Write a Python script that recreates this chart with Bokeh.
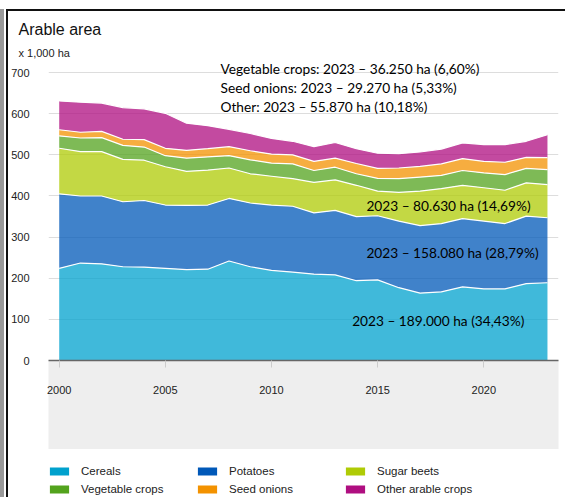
from bokeh.plotting import figure
from bokeh.layouts import column
from bokeh.models import (Range1d, FixedTicker, Legend, LegendItem, Title, Label,
                          ColumnDataSource)
from bokeh.embed import file_html
from bokeh.resources import INLINE

# ---------------- data (x 1,000 ha) ----------------
years = list(range(2000, 2024))
cereals = [224, 237, 235, 228, 227, 224, 221, 222, 242, 228, 219, 215,
           210, 208, 194, 196, 177, 164, 167, 179, 174, 174, 187, 189.0]
potatoes = [181, 163, 165, 158, 162, 154, 156, 156, 152, 155, 159, 160,
            149, 157, 156, 156, 162, 164, 166, 166, 165, 159, 164, 158.08]
sugar_beets = [111, 108, 108, 103, 98, 93, 83, 85, 74, 71, 70, 67,
               74, 74, 76, 60, 70, 84, 85, 81, 81, 81, 81, 80.63]
vegetable_crops = [30, 33, 34, 34, 32, 27, 32, 32, 30, 34, 32, 36,
                   29, 31, 28, 31, 33, 34, 32, 36, 36, 38, 35, 36.25]
seed_onions = [15, 14, 15, 15, 18, 18, 19, 20, 22, 22, 22, 22,
               22, 22, 25, 24, 26, 26, 28, 29, 28, 30, 27, 29.27]
other_crops = [70, 73, 69, 77, 75, 85, 66, 56, 42, 42, 38, 33,
               36, 38, 36, 37, 35, 35, 36, 38, 41, 43, 39, 55.87]

series_keys = ["cereals", "potatoes", "sugar_beets", "vegetable_crops",
               "seed_onions", "other_crops"]
series_names = ["Cereals", "Potatoes", "Sugar beets", "Vegetable crops",
                "Seed onions", "Other arable crops"]
colors = ["#00a1cd", "#0058b8", "#afcb05", "#53a31d", "#f39200", "#af0e80"]

x_ticks = [2000, 2005, 2010, 2015, 2020]
y_ticks = [0, 100, 200, 300, 400, 500, 600, 700]

note_texts = ["Vegetable crops: 2023 \u2013 36.250 ha (6,60%)",
              "Seed onions: 2023 \u2013 29.270 ha (5,33%)",
              "Other: 2023 \u2013 55.870 ha (10,18%)",
              "2023 \u2013 80.630 ha (14,69%)",
              "2023 \u2013 158.080 ha (28,79%)",
              "2023 \u2013 189.000 ha (34,43%)"]
note_x = [2007.6, 2007.6, 2007.6, 2014.47, 2014.47, 2013.8]
note_y = [710, 664, 618, 378, 262, 97]

# ---------------- main figure ----------------
source = ColumnDataSource(dict(year=years, cereals=cereals, potatoes=potatoes,
                               sugar_beets=sugar_beets,
                               vegetable_crops=vegetable_crops,
                               seed_onions=seed_onions, other_crops=other_crops))

p = figure(width=557, height=438,
           x_range=Range1d(1999.496, 2023.52), y_range=Range1d(0, 727),
           output_backend="svg", toolbar_location=None,
           min_border_left=40, min_border_right=7, min_border_top=50,
           min_border_bottom=88)
p.outline_line_color = None
p.background_fill_color = "white"
p.border_fill_color = "white"

p.varea_stack(series_keys, x="year", source=source, color=colors, fill_alpha=0.75)
p.vline_stack(series_keys, x="year", source=source, color="white", line_width=1.2)

xa = p.xaxis[0]
xa.ticker = FixedTicker(ticks=x_ticks)
xa.axis_line_color = "#666666"
xa.axis_line_width = 1.5
xa.major_tick_in = 0
xa.major_tick_out = 7
xa.major_tick_line_color = "#cccccc"
xa.minor_tick_line_color = None
xa.major_label_text_font = "Liberation Sans"
xa.major_label_text_font_size = "11px"
xa.major_label_text_color = "#222222"
xa.major_label_standoff = 18
xa.axis_label = " "
xa.axis_label_standoff = 36
xa.axis_label_text_font_size = "12px"
xa.background_fill_color = "#eeeeee"

ya = p.yaxis[0]
ya.ticker = FixedTicker(ticks=y_ticks)
ya.axis_line_color = None
ya.major_tick_line_color = None
ya.minor_tick_line_color = None
ya.major_label_standoff = 13
ya.major_label_text_font = "Liberation Sans"
ya.major_label_text_font_size = "11px"
ya.major_label_text_color = "#222222"

p.xgrid.grid_line_color = None
p.ygrid.grid_line_color = "#dddddd"

p.add_layout(Title(text="x 1,000 ha", align="left", offset=-30, standoff=6,
                   text_font="Liberation Sans", text_font_size="11px",
                   text_font_style="normal", text_color="#222222"), "above")
p.add_layout(Title(text="Arable area", align="left", offset=-30, standoff=8,
                   text_font="Liberation Sans", text_font_size="16px",
                   text_font_style="normal", text_color="#111111"), "above")

for t, xx, yy in zip(note_texts, note_x, note_y):
    p.add_layout(Label(x=xx, y=yy, text=t, text_font="Lato",
                       text_font_size="13.7px", text_baseline="middle",
                       text_color="black"))

# ---------------- legend strip ----------------
lg = figure(width=557, height=48, x_range=Range1d(0, 1), y_range=Range1d(0, 1),
            x_axis_type=None, y_axis_type=None, output_backend="svg",
            toolbar_location=None, min_border_left=0, min_border_right=0,
            min_border_top=0, min_border_bottom=0)
lg.outline_line_color = None
lg.xgrid.grid_line_color = None
lg.ygrid.grid_line_color = None
items = []
for key, name, c in zip(series_keys, series_names, colors):
    r = lg.varea(x="year", y1=key, y2=key, source=source, fill_color=c, fill_alpha=1.0)
    items.append(LegendItem(label=name, renderers=[r]))
legend = Legend(items=items, orientation="horizontal", ncols=3,
                location=(-1, -1), glyph_width=24, glyph_height=10,
                label_standoff=10, label_width=114, label_height=18,
                spacing=0, padding=0, margin=0, border_line_color=None,
                background_fill_alpha=0, label_text_font="Liberation Sans",
                label_text_font_size="11.5px", label_text_color="#222222")
lg.add_layout(legend)

layout = column(p, lg, spacing=0,
                styles={"box-sizing": "content-box", "overflow": "visible",
                        "margin-left": "6px", "margin-top": "9px",
                        "border-left": "2px solid #111111",
                        "border-top": "2px solid #111111",
                        "box-shadow": "-2px 0 0 0 #ffffff, -6px 0 0 0 #9a9a9a"})

open("out.html", "w").write(file_html(layout, INLINE))
